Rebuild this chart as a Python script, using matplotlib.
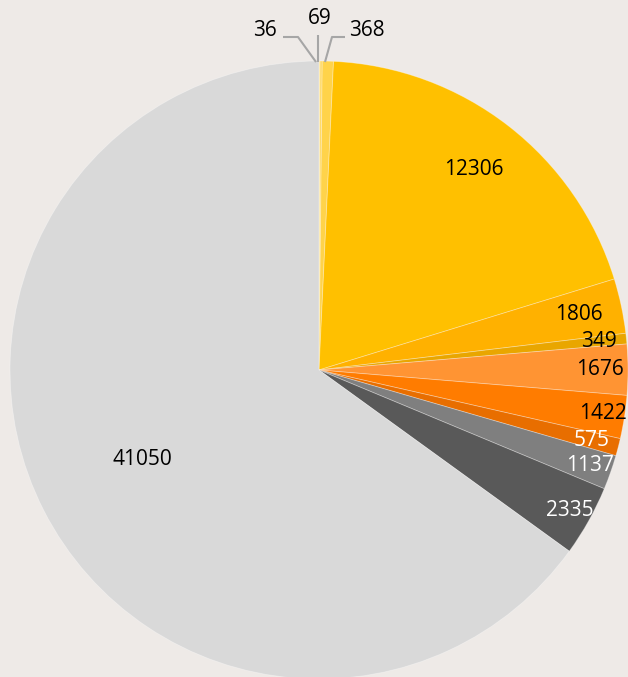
import numpy as np
import matplotlib
matplotlib.use("Agg")
import matplotlib.pyplot as plt

# slice values, clockwise from 12 o'clock
values = [36, 69, 368, 12306, 1806, 349, 1676, 1422, 575, 1137, 2335, 41050]
labels = [str(v) for v in values]
colors = ["#FFDF7A", "#FFD658", "#FFD34A", "#FFC000", "#FFB100", "#E9A600",
          "#FF9433", "#FF7C00", "#E86E00", "#7F7F7F", "#595959", "#D9D9D9"]
text_colors = ["black"] * 8 + ["white", "white", "white", "black"]
label_r = [None, None, None, 0.82, 0.86, 0.91, 0.91, 0.93, 0.91, 0.93, 0.93, 0.64]

bg = "#EEEAE7"
W, H = 628, 677
cx, cy, R = 319, 370, 309

fig = plt.figure(figsize=(W / 100, H / 100), dpi=100, facecolor=bg)
ax = fig.add_axes([0, 0, 1, 1])
ax.set_facecolor(bg)

wedges, _ = ax.pie(values, colors=colors, startangle=90, counterclock=False,
                   radius=1, center=(0, 0),
                   wedgeprops=dict(edgecolor=(1, 1, 1, 0.35), linewidth=0.6))

ax.set_aspect("auto")
ax.set_xlim(-cx / R, (W - cx) / R)
ax.set_ylim(-(H - cy) / R, cy / R)
ax.axis("off")

font = dict(family=["Open Sans", "DejaVu Sans"], fontsize=15)

for w, lab, tc, r in zip(wedges, labels, text_colors, label_r):
    if r is None:
        continue
    ang = np.deg2rad((w.theta1 + w.theta2) / 2)
    ax.text(r * np.cos(ang), r * np.sin(ang), lab, color=tc,
            ha="center", va="center", **font)

# small slices at the top: labels outside with leader lines
def px(x, y):
    return (x - cx) / R, (cy - y) / R

line_kw = dict(color="#A6A6A6", lw=1.5, solid_capstyle="butt")
ax.plot(*zip(px(283, 37), px(298, 37), px(316, 62)), **line_kw)
ax.plot(*zip(px(318, 35), px(318, 62)), **line_kw)
ax.plot(*zip(px(345, 37), px(332, 37), px(325, 62)), **line_kw)
ax.text(*px(265, 30), labels[0], ha="center", va="center", color="black", **font)
ax.text(*px(320, 18), labels[1], ha="center", va="center", color="black", **font)
ax.text(*px(367, 30), labels[2], ha="center", va="center", color="black", **font)

fig.savefig("out.png", dpi=100, facecolor=bg)
